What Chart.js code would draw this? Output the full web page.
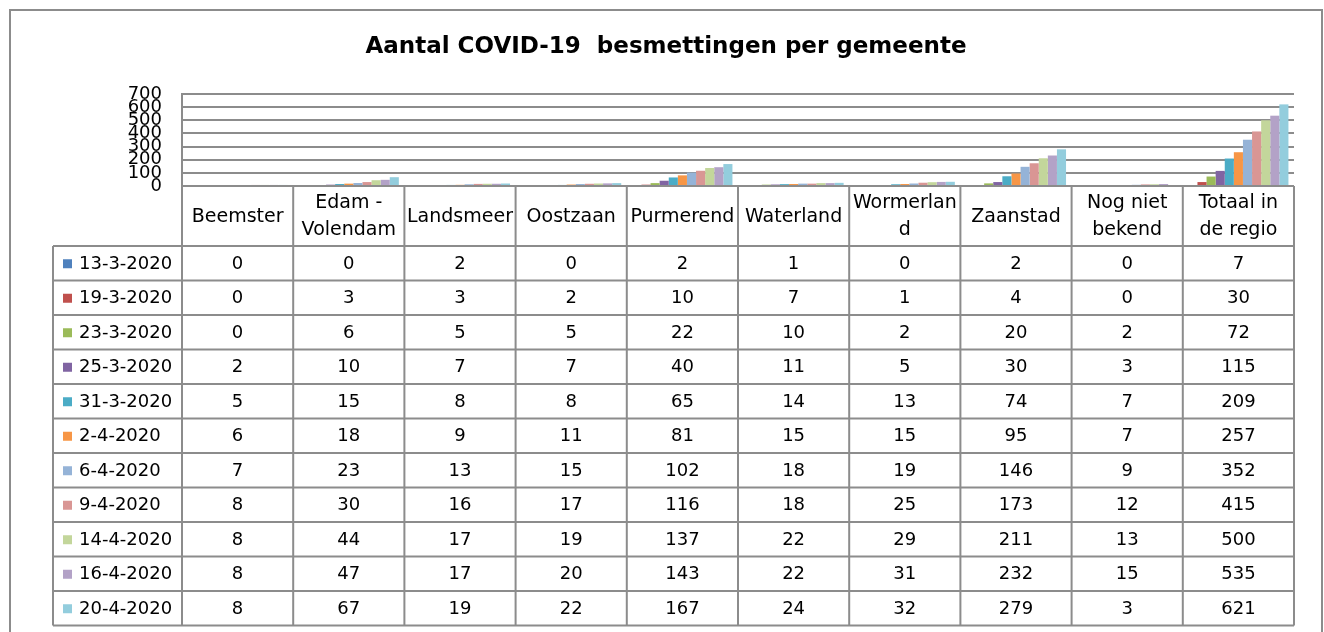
<!DOCTYPE html>
<html>
<head>
<meta charset="utf-8">
<script src="https://cdn.jsdelivr.net/npm/chart.js@4"></script>
<style>
  html, body { margin: 0; padding: 0; background: #ffffff; }
  #wrap { width: 1324px; height: 632px; position: relative; }
</style>
</head>
<body>
<div id="wrap"><canvas id="covidChart" width="1324" height="632"></canvas></div>
<script>
const gemeenten = [
    "Beemster", ["Edam -", "Volendam"], "Landsmeer", "Oostzaan", "Purmerend",
    "Waterland", ["Wormerlan", "d"], "Zaanstad", ["Nog niet", "bekend"], ["Totaal in", "de regio"]
];
const datums = [
    "13-3-2020", "19-3-2020", "23-3-2020", "25-3-2020", "31-3-2020", "2-4-2020",
    "6-4-2020", "9-4-2020", "14-4-2020", "16-4-2020", "20-4-2020"
];
const yTicks = [0, 100, 200, 300, 400, 500, 600, 700];

const d13_3 = [0, 0, 2, 0, 2, 1, 0, 2, 0, 7];
const d19_3 = [0, 3, 3, 2, 10, 7, 1, 4, 0, 30];
const d23_3 = [0, 6, 5, 5, 22, 10, 2, 20, 2, 72];
const d25_3 = [2, 10, 7, 7, 40, 11, 5, 30, 3, 115];
const d31_3 = [5, 15, 8, 8, 65, 14, 13, 74, 7, 209];
const d2_4 = [6, 18, 9, 11, 81, 15, 15, 95, 7, 257];
const d6_4 = [7, 23, 13, 15, 102, 18, 19, 146, 9, 352];
const d9_4 = [8, 30, 16, 17, 116, 18, 25, 173, 12, 415];
const d14_4 = [8, 44, 17, 19, 137, 22, 29, 211, 13, 500];
const d16_4 = [8, 47, 17, 20, 143, 22, 31, 232, 15, 535];
const d20_4 = [8, 67, 19, 22, 167, 24, 32, 279, 3, 621];

const reeksen = [d13_3, d19_3, d23_3, d25_3, d31_3, d2_4, d6_4, d9_4, d14_4, d16_4, d20_4];

const kleuren = [
    "#4F81BD", "#C0504D", "#9BBB59", "#8064A2", "#4BACC6", "#F79646",
    "#95B3D7", "#D99694", "#C3D69B", "#B3A2C7", "#93CDDD"
];

const lijnKleur = "#8c8c8c";
const kopFont = "19px 'DejaVu Sans'";
const celFont = "18px 'DejaVu Sans'";

// datatabel onder de grafiek (zoals Excel)
const dataTabel = {
    id: "dataTabel",
    beforeDraw(chart) {
        const ctx = chart.ctx;
        ctx.save();
        ctx.fillStyle = "#ffffff";
        ctx.fillRect(0, 0, chart.width, chart.height);
        ctx.strokeStyle = lijnKleur;
        ctx.lineWidth = 2;
        ctx.strokeRect(10, 10, 1312, 660);
        ctx.restore();
    },
    afterDraw(chart) {
        const ctx = chart.ctx;
        const x = chart.scales.x;
        const area = chart.chartArea;
        const n = gemeenten.length;
        const breedte = (x.right - x.left) / n;
        const links = 53;
        const kopTop = area.bottom;
        const kopOnder = 246;
        const rijHoogte = 34.5;
        const onder = kopOnder + rijHoogte * datums.length;

        ctx.save();
        ctx.strokeStyle = lijnKleur;
        ctx.lineWidth = 2;
        ctx.beginPath();
        ctx.moveTo(x.left, kopTop);
        ctx.lineTo(x.right, kopTop);
        for (let r = 0; r <= datums.length; r++) {
            const y = kopOnder + r * rijHoogte;
            ctx.moveTo(links, y);
            ctx.lineTo(x.right, y);
        }
        ctx.moveTo(links, kopOnder);
        ctx.lineTo(links, onder);
        for (let i = 0; i <= n; i++) {
            const xp = x.left + i * breedte;
            ctx.moveTo(xp, kopTop);
            ctx.lineTo(xp, onder);
        }
        ctx.stroke();

        ctx.fillStyle = "#000000";
        ctx.textAlign = "center";
        ctx.textBaseline = "middle";

        ctx.font = kopFont;
        gemeenten.forEach((naam, i) => {
            const cx = x.getPixelForValue(i);
            const mid = (kopTop + kopOnder) / 2 + 1;
            if (Array.isArray(naam)) {
                ctx.fillText(naam[0], cx, mid - 13.5);
                ctx.fillText(naam[1], cx, mid + 13.5);
            } else {
                ctx.fillText(naam, cx, mid);
            }
        });

        ctx.font = celFont;
        datums.forEach((datum, r) => {
            const cy = kopOnder + r * rijHoogte + rijHoogte / 2 + 1;
            ctx.fillStyle = kleuren[r];
            ctx.fillRect(63, cy - 5, 9, 9);
            ctx.fillStyle = "#000000";
            ctx.textAlign = "left";
            ctx.fillText(datum, 79, cy);
            ctx.textAlign = "center";
            reeksen[r].forEach((v, i) => {
                ctx.fillText(String(v), x.getPixelForValue(i), cy);
            });
        });
        ctx.restore();
    }
};

const ctx = document.getElementById("covidChart").getContext("2d");

new Chart(ctx, {
    type: "bar",
    data: {
        labels: gemeenten,
        datasets: datums.map((datum, r) => ({
            label: datum,
            data: reeksen[r],
            backgroundColor: kleuren[r],
            borderWidth: 0,
            barPercentage: 1,
            categoryPercentage: 0.9
        }))
    },
    options: {
        responsive: false,
        animation: false,
        layout: {
            padding: { top: 20, left: 38, right: 30, bottom: 446 }
        },
        plugins: {
            legend: { display: false },
            tooltip: { enabled: false },
            title: {
                display: true,
                text: "Aantal COVID-19  besmettingen per gemeente",
                color: "#000000",
                font: { family: "'DejaVu Sans'", size: 23, weight: "bold" },
                padding: { top: 13.5, bottom: 32.9 }
            }
        },
        scales: {
            x: {
                display: false
            },
            y: {
                min: 0,
                max: 700,
                afterFit(scale) {
                    scale.width = 144;
                },
                afterBuildTicks(scale) {
                    scale.ticks = yTicks.map(v => ({ value: v }));
                },
                ticks: {
                    autoSkip: false,
                    padding: 20,
                    color: "#000000",
                    font: { family: "'DejaVu Sans'", size: 18 }
                },
                grid: {
                    color: lijnKleur,
                    lineWidth: 2,
                    drawTicks: false
                },
                border: {
                    display: true,
                    color: lijnKleur,
                    width: 2
                }
            }
        }
    },
    plugins: [dataTabel]
});
</script>
</body>
</html>
